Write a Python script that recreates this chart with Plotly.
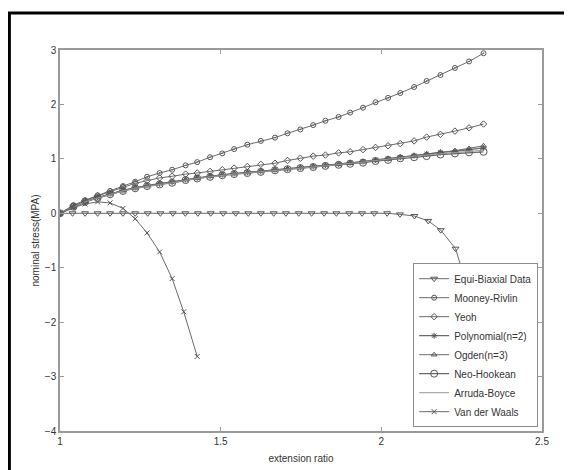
import plotly.graph_objects as go

# ---- data ----
model_x = [1.0, 1.042, 1.078, 1.117, 1.156, 1.196, 1.234, 1.271, 1.31, 1.349, 1.391, 1.427,
           1.467, 1.505, 1.542, 1.583, 1.625, 1.669, 1.708, 1.748, 1.788, 1.826, 1.867, 1.903,
           1.943, 1.982, 2.021, 2.059, 2.102, 2.141, 2.184, 2.229, 2.273, 2.318]

equi_x = [1.0, 1.039, 1.078, 1.117, 1.156, 1.196, 1.234, 1.273, 1.3125, 1.351, 1.39, 1.429,
          1.469, 1.508, 1.547, 1.586, 1.625, 1.665, 1.703, 1.743, 1.783, 1.822, 1.86, 1.90,
          1.94, 1.978, 2.018, 2.058, 2.103, 2.146, 2.185, 2.231, 2.273, 2.31]
equi_y = [0] * 27 + [-0.02, -0.05, -0.14, -0.31, -0.65, -1.47, -3.3]

mooney_y = [0, 0.15, 0.24, 0.33, 0.41, 0.50, 0.58, 0.67, 0.74, 0.80, 0.88, 0.94, 1.03, 1.10,
            1.18, 1.26, 1.33, 1.39, 1.47, 1.54, 1.62, 1.70, 1.77, 1.85, 1.94, 2.04, 2.12, 2.21,
            2.32, 2.43, 2.54, 2.67, 2.79, 2.94]
yeoh_y = [0, 0.13, 0.23, 0.32, 0.40, 0.48, 0.55, 0.60, 0.65, 0.68, 0.72, 0.74, 0.77, 0.80,
          0.83, 0.86, 0.90, 0.92, 0.97, 1.01, 1.05, 1.07, 1.11, 1.13, 1.17, 1.21, 1.24, 1.28,
          1.33, 1.40, 1.45, 1.51, 1.57, 1.64]
poly_y = [0, 0.12, 0.21, 0.29, 0.36, 0.42, 0.47, 0.51, 0.54, 0.57, 0.62, 0.65, 0.68, 0.71,
          0.73, 0.75, 0.77, 0.80, 0.82, 0.84, 0.86, 0.88, 0.90, 0.93, 0.95, 0.98, 1.00, 1.03,
          1.06, 1.09, 1.12, 1.14, 1.17, 1.20]
ogden_y = [0, 0.12, 0.21, 0.29, 0.36, 0.42, 0.47, 0.51, 0.55, 0.58, 0.62, 0.65, 0.68, 0.71,
           0.73, 0.75, 0.78, 0.80, 0.82, 0.84, 0.86, 0.88, 0.90, 0.92, 0.95, 0.97, 1.00, 1.03,
           1.06, 1.09, 1.12, 1.15, 1.19, 1.24]
neo_y = [0, 0.12, 0.21, 0.28, 0.35, 0.41, 0.46, 0.50, 0.53, 0.56, 0.61, 0.64, 0.67, 0.70,
         0.72, 0.74, 0.76, 0.79, 0.81, 0.83, 0.85, 0.87, 0.89, 0.91, 0.93, 0.96, 0.98, 1.01,
         1.03, 1.05, 1.08, 1.10, 1.12, 1.13]
arruda_y = [0, 0.12, 0.21, 0.28, 0.35, 0.41, 0.46, 0.50, 0.53, 0.56, 0.61, 0.64, 0.67, 0.70,
            0.72, 0.74, 0.76, 0.79, 0.81, 0.83, 0.85, 0.87, 0.89, 0.92, 0.94, 0.97, 0.99, 1.02,
            1.05, 1.07, 1.10, 1.12, 1.14, 1.16]

vdw_x = [1.0, 1.039, 1.078, 1.117, 1.156, 1.196, 1.234, 1.271, 1.31, 1.349, 1.385, 1.427]
vdw_y = [0, 0.10, 0.17, 0.21, 0.19, 0.09, -0.10, -0.36, -0.71, -1.20, -1.81, -2.63]

x_ticks = [1, 1.5, 2, 2.5]
y_ticks = [3, 2, 1, 0, -1, -2, -3, -4]

LINE = "#6a6a6a"
MARK = "#555555"

series = [
    ("Equi-Biaxial Data", equi_x, equi_y, "triangle-down-open", 6, 1.0),
    ("Mooney-Rivlin", model_x, mooney_y, "circle-open-dot", 5, 1.0),
    ("Yeoh", model_x, yeoh_y, "diamond-open", 5, 1.0),
    ("Polynomial(n=2)", model_x, poly_y, "asterisk-open", 5, 1.3),
    ("Ogden(n=3)", model_x, ogden_y, "triangle-up-open", 5, 1.0),
    ("Neo-Hookean", model_x, neo_y, "circle-open", 7, 1.3),
    ("Arruda-Boyce", model_x, arruda_y, None, 0, 1.0),
    ("Van der Waals", vdw_x, vdw_y, "x-thin-open", 5, 1.0),
]

fig = go.Figure()
for name, xs, ys, sym, size, lw in series:
    if sym is None:
        fig.add_trace(go.Scatter(x=xs, y=ys, name=name, mode="lines",
                                 line=dict(color="#999999", width=1)))
    else:
        fig.add_trace(go.Scatter(
            x=xs, y=ys, name=name, mode="lines+markers",
            line=dict(color=LINE, width=lw),
            marker=dict(symbol=sym, size=size, color=MARK,
                        line=dict(color=MARK, width=1)),
        ))

FONT = "Arial, Liberation Sans, sans-serif"
axis_common = dict(
    showgrid=False, zeroline=False, showline=True, linecolor="#9a9a9a", linewidth=1.5,
    mirror="allticks", ticks="inside", ticklen=4, tickcolor="#9a9a9a",
    tickfont=dict(family=FONT, size=10, color="#333333"), automargin=False,
)

# page body has an 8px margin, so the figure is sized to fit the window
fig.update_layout(
    width=564, height=462,
    margin=dict(l=52, r=30, t=42, b=39),
    paper_bgcolor="white", plot_bgcolor="white",
    font=dict(family=FONT, size=10, color="#333333"),
    xaxis=dict(range=[1, 2.5], tickvals=x_ticks, ticktext=["1", "1.5", "2", "2.5"],
               title=dict(text="extension ratio", standoff=9,
                          font=dict(size=10, color="#333333")),
               **axis_common),
    yaxis=dict(range=[-4, 3], tickvals=y_ticks,
               title=dict(text="nominal stress(MPA)", standoff=3,
                          font=dict(size=10, color="#333333")),
               **axis_common),
    legend=dict(x=0.992, y=0.01, xanchor="right", yanchor="bottom",
                bgcolor="white", bordercolor="#8c8c8c", borderwidth=1,
                font=dict(size=10, color="#333333"),
                tracegroupgap=0, itemwidth=30),
    showlegend=True,
)

# outer black frame of the figure
fig.add_shape(type="rect", xref="paper", yref="paper",
              x0=-0.105, x1=1.1, y0=-0.2, y1=1.097,
              line=dict(color="black", width=3), fillcolor="rgba(0,0,0,0)", layer="below")

fig.write_html("out.html")
